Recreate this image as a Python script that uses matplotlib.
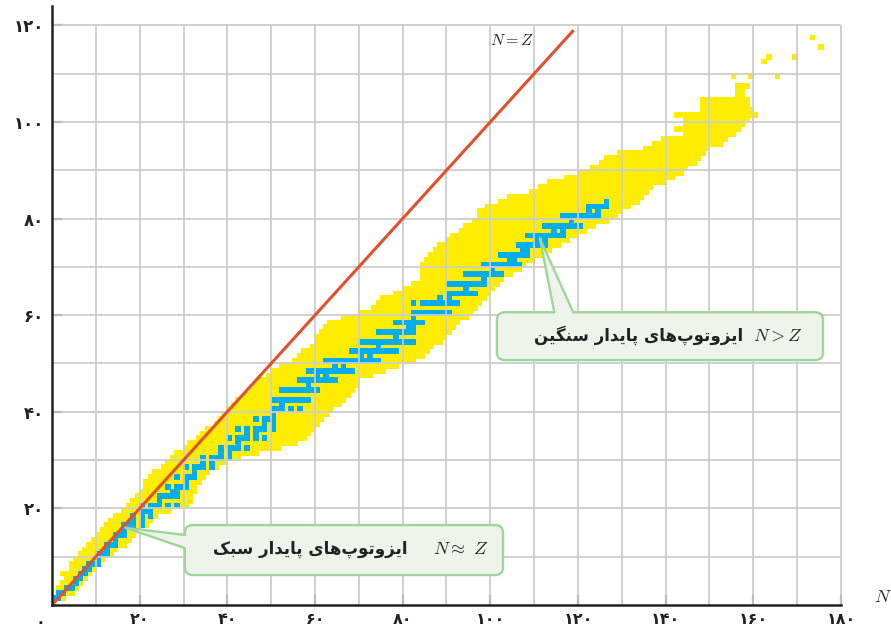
import numpy as np
import matplotlib
matplotlib.use("Agg")
import matplotlib.pyplot as plt
from matplotlib.path import Path
from matplotlib.patches import PathPatch

plt.rcParams['font.family'] = ['DejaVu Sans']
plt.rcParams['mathtext.fontset'] = 'cm'

# --- data --------------------------------------------------------------
# known isotopes (yellow): lowest / highest N for each Z
band_z = list(range(1, 108))
band_lo = [0, 1, 1, 2, 3, 2, 4, 4, 5, 6,
           7, 8, 9, 10, 11, 12, 13, 14, 16, 17,
           18, 19, 20, 21, 21, 22, 23, 25, 26, 27,
           28, 30, 31, 33, 34, 35, 37, 38, 39, 40,
           41, 42, 44, 45, 46, 47, 49, 50, 52, 55,
           56, 57, 59, 60, 60, 61, 62, 63, 66, 70,
           73, 74, 75, 78, 80, 82, 84, 84, 84, 84,
           85, 86, 87, 88, 90, 91, 93, 94, 96, 97,
           97, 99, 102, 104, 109, 111, 113, 117, 120, 123,
           125, 126, 129, 135, 137, 139, 144, 142, 144, 144,
           142, 148, 148, 148, 156, 156, 156]
band_hi = [2, 4, 5, 6, 7, 8, 9, 10, 11, 13,
           14, 16, 17, 18, 19, 21, 22, 23, 26, 30,
           31, 31, 32, 32, 33, 34, 35, 37, 39, 42,
           46, 51, 55, 57, 58, 59, 60, 61, 62, 63,
           65, 66, 67, 68, 69, 69, 72, 75, 78, 82,
           84, 85, 86, 88, 89, 90, 91, 92, 94, 95,
           96, 97, 98, 99, 100, 101, 102, 104, 106, 107,
           109, 111, 113, 115, 117, 119, 121, 123, 126, 128,
           129, 131, 133, 134, 135, 136, 139, 141, 143, 144,
           146, 147, 148, 149, 152, 153, 155, 156, 157, 158,
           160, 159, 158, 158, 157, 157, 158]

# isolated superheavy cells
extra_n = [155, 159, 165, 162, 163, 169, 175, 173]
extra_z = [109, 109, 109, 112, 113, 113, 115, 117]

# stable isotopes (blue): N values for Z = 1..83
stable_n = [
    [0, 1], [1, 2], [3, 4], [5], [5, 6], [6, 7], [7, 8], [8, 9, 10], [10],
    [10, 11, 12], [12], [12, 13, 14], [14], [14, 15, 16], [16],
    [16, 17, 18, 20], [18, 20], [18, 20, 22], [20, 21, 22],
    [20, 22, 23, 24, 26, 28], [24], [24, 25, 26, 27, 28], [27, 28],
    [26, 28, 29, 30], [30], [28, 30, 31, 32], [32], [30, 32, 33, 34, 36],
    [34, 36], [34, 36, 37, 38, 40], [38, 40], [38, 40, 41, 42, 44], [42],
    [40, 42, 43, 44, 46, 48], [44, 46], [42, 44, 46, 47, 48, 50], [48, 50],
    [46, 48, 49, 50], [50], [50, 51, 52, 54, 56], [52],
    [50, 51, 52, 53, 54, 55, 56, 57, 58], [],
    [52, 53, 54, 55, 56, 57, 58, 59, 60], [58],
    [56, 57, 58, 59, 60, 61, 62, 63, 64], [60, 62],
    [58, 59, 60, 61, 62, 63, 64, 65, 66, 67, 68], [64, 66],
    [62, 63, 64, 65, 66, 67, 68, 69, 70, 71, 72, 73, 74], [70, 72],
    [68, 69, 70, 71, 72, 73, 74, 75, 76, 77, 78], [74],
    [70, 71, 72, 73, 74, 75, 76, 77, 78, 79, 80, 81, 82], [78],
    [74, 75, 76, 77, 78, 79, 80, 81, 82], [81, 82],
    [78, 79, 80, 81, 82, 83, 84], [82],
    [82, 83, 84, 85, 86, 87, 88, 89, 90], [],
    [82, 84, 85, 86, 87, 88, 89, 90, 91, 92], [88, 90],
    [90, 91, 92, 93, 94, 95, 96], [94],
    [90, 91, 92, 93, 94, 95, 96, 97, 98], [98],
    [94, 95, 96, 97, 98, 99, 100, 101, 102], [100],
    [98, 99, 100, 101, 102, 103, 104, 105, 106], [104, 105],
    [102, 103, 104, 105, 106, 107, 108], [107, 108],
    [106, 107, 108, 109, 110, 111, 112], [110, 112],
    [108, 109, 110, 111, 112, 113, 114, 115, 116], [114, 116],
    [112, 113, 114, 115, 116, 117, 118, 119, 120], [118],
    [116, 117, 118, 119, 120, 121, 122, 123, 124], [122, 124],
    [122, 123, 124, 125, 126], [126],
]

line_n = [0, 119]
line_z = [0, 119]

x_ticks = [20, 40, 60, 80, 100, 120, 140, 160, 180]
y_ticks = [20, 40, 60, 80, 100, 120]
grid_n = list(range(10, 190, 10))
grid_z = list(range(10, 130, 10))

label_heavy = "ایزوتوپ‌های پایدار سنگین"
label_light = "ایزوتوپ‌های پایدار سبک"

YELLOW = '#ffed00'
BLUE = '#00aeef'
RED = '#e2502e'
GRID = '#cdcdcd'
INK = '#222222'
CELL_W = 1.3   # cells in the print are a bit larger than one unit
CELL_H = 1.2

# --- persian helpers ------------------------------------------------------
FORMS = {
    'ا': ('\uFE8D', '\uFE8E', None, None),
    'د': ('\uFEA9', '\uFEAA', None, None),
    'ر': ('\uFEAD', '\uFEAE', None, None),
    'ز': ('\uFEAF', '\uFEB0', None, None),
    'و': ('\uFEED', '\uFEEE', None, None),
    'ب': ('\uFE8F', '\uFE90', '\uFE91', '\uFE92'),
    'پ': ('\uFB56', '\uFB57', '\uFB58', '\uFB59'),
    'ت': ('\uFE95', '\uFE96', '\uFE97', '\uFE98'),
    'س': ('\uFEB1', '\uFEB2', '\uFEB3', '\uFEB4'),
    'ک': ('\uFB8E', '\uFB8F', '\uFB90', '\uFB91'),
    'گ': ('\uFB92', '\uFB93', '\uFB94', '\uFB95'),
    'ن': ('\uFEE5', '\uFEE6', '\uFEE7', '\uFEE8'),
    'ه': ('\uFEE9', '\uFEEA', '\uFEEB', '\uFEEC'),
    'ی': ('\uFBFC', '\uFBFD', '\uFBFE', '\uFBFF'),
}


def shape_fa(text):
    # join letters into presentation forms, then reverse for display
    out = []
    for i, ch in enumerate(text):
        if ch not in FORMS:
            if ch != '\u200c':
                out.append(ch)
            continue
        prev = text[i - 1] if i > 0 else ''
        nxt = text[i + 1] if i + 1 < len(text) else ''
        join_prev = prev in FORMS and FORMS[prev][2] is not None
        join_next = FORMS[ch][2] is not None and nxt in FORMS
        iso, fin, ini, med = FORMS[ch]
        if join_prev and join_next:
            out.append(med)
        elif join_prev:
            out.append(fin)
        elif join_next:
            out.append(ini)
        else:
            out.append(iso)
    return ''.join(reversed(out))


def fa_digits(v):
    return str(v).translate(str.maketrans('0123456789', '۰۱۲۳۴۵۶۷۸۹'))


def callout(ax, x0, y0, x1, y1, side, b_a, b_b, tip, rx=1.8, ry=1.65):
    verts = [(x0 + rx, y0), (x1 - rx, y0), (x1, y0), (x1, y0 + ry),
             (x1, y1 - ry), (x1, y1), (x1 - rx, y1)]
    codes = [Path.MOVETO, Path.LINETO, Path.CURVE3, Path.CURVE3,
             Path.LINETO, Path.CURVE3, Path.CURVE3]
    if side == 'top':
        verts += [(b_b, y1), tip, (b_a, y1)]
        codes += [Path.LINETO] * 3
    verts += [(x0 + rx, y1), (x0, y1), (x0, y1 - ry)]
    codes += [Path.LINETO, Path.CURVE3, Path.CURVE3]
    if side == 'left':
        verts += [(x0, b_a), tip, (x0, b_b)]
        codes += [Path.LINETO] * 3
    verts += [(x0, y0 + ry), (x0, y0), (x0 + rx, y0), (x0 + rx, y0)]
    codes += [Path.LINETO, Path.CURVE3, Path.CURVE3, Path.CLOSEPOLY]
    patch = PathPatch(Path(verts, codes), facecolor='#eef4ec', edgecolor='#9fd49a',
                      lw=1.7, joinstyle='round', zorder=5, clip_on=False)
    ax.add_patch(patch)


fig = plt.figure(figsize=(8.91, 6.32), dpi=100)
ax = fig.add_axes([52 / 891, 27 / 632, 789 / 891, 599 / 632])

# yellow band, one bar per Z row
lo = np.array(band_lo)
hi = np.array(band_hi)
pad = (CELL_W - 1) / 2
ax.barh(np.array(band_z) + 0.5, hi - lo + 1 + 2 * pad, left=lo - pad,
        height=CELL_H, color=YELLOW, linewidth=0, zorder=1)
ax.bar(np.array(extra_n) + 0.5, CELL_H, bottom=np.array(extra_z) + 0.5 - CELL_H / 2,
       width=CELL_W, color=YELLOW, linewidth=0, zorder=1)

# stable cells
st_n = [n for ns in stable_n for n in ns]
st_z = [z for z, ns in enumerate(stable_n, start=1) for n in ns]
ax.bar(np.array(st_n) + 0.5, CELL_H, bottom=np.array(st_z) + 0.5 - CELL_H / 2,
       width=CELL_W, color=BLUE, linewidth=0, zorder=1.5)

ax.vlines(grid_n, 0, 120, colors=GRID, lw=1.3, zorder=2, clip_on=False)
ax.hlines(grid_z, 0, 180, colors=GRID, lw=1.3, zorder=2, clip_on=False)

ax.plot(line_n, line_z, color=RED, lw=2.2, zorder=3, solid_capstyle='butt')
ax.text(104.9, 116.8, '$N = Z$', fontsize=11.5, ha='center', va='center', color=INK)

ax.set_xlim(0, 180)
ax.set_ylim(0, 124)
for s in ['top', 'right']:
    ax.spines[s].set_visible(False)
for s in ['left', 'bottom']:
    ax.spines[s].set_linewidth(1.8)
    ax.spines[s].set_color(INK)
    ax.spines[s].set_zorder(4)

ax.set_xticks(x_ticks)
ax.set_xticklabels([fa_digits(v) for v in x_ticks], fontsize=11.5, fontweight='bold')
ax.set_yticks(y_ticks)
ax.set_yticklabels([fa_digits(v) for v in y_ticks], fontsize=12, fontweight='bold')
ax.tick_params(axis='both', direction='in', length=7, width=1.5, color=INK,
               labelcolor=INK)
ax.tick_params(axis='x', pad=5)
ax.tick_params(axis='y', pad=6)
ax.text(-2.7, -3.6, fa_digits(0), fontsize=11.5, fontweight='bold', color=INK,
        ha='center', va='center', clip_on=False)
ax.text(187.6, 1.6, '$N$', fontsize=13, ha='left', va='center', color=INK,
        clip_on=False)

# callout: heavy stable isotopes
callout(ax, 101.5, 50.7, 175.9, 60.6, 'top', 114.6, 118.9, (111.3, 75.9))
ax.text(157.7, 55.8, shape_fa(label_heavy), fontsize=12, fontweight='bold',
        ha='right', va='center', color=INK, zorder=6)
ax.text(160.0, 55.8, '$N > Z$', fontsize=13, ha='left', va='center', color=INK, zorder=6)

# callout: light stable isotopes
callout(ax, 30.3, 6.2, 102.9, 16.55, 'left', 14.5, 11.8, (16.7, 16.0))
ax.text(81.0, 11.6, shape_fa(label_light), fontsize=12, fontweight='bold',
        ha='right', va='center', color=INK, zorder=6)
ax.text(86.9, 11.6, r'$N\approx\ Z$', fontsize=13, ha='left', va='center',
        color=INK, zorder=6)

fig.savefig('out.png', dpi=100)
